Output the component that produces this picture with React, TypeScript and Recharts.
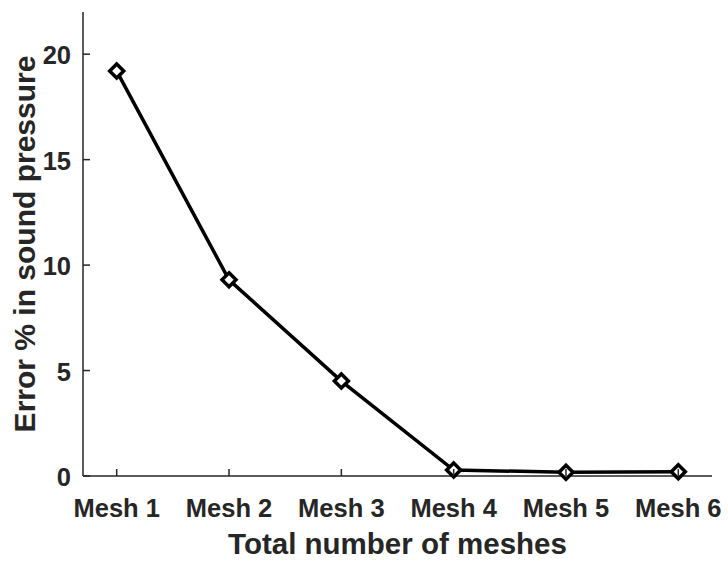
import { LineChart, Line, XAxis, YAxis } from 'recharts';

const meshLabels = ['Mesh 1', 'Mesh 2', 'Mesh 3', 'Mesh 4', 'Mesh 5', 'Mesh 6'];
const meshIndex = [1, 2, 3, 4, 5, 6];
const errorPercent = [19.2, 9.3, 4.5, 0.28, 0.18, 0.2];
const yTicks = [0, 5, 10, 15, 20];

const data = meshIndex.map((m, i) => ({ mesh: m, error: errorPercent[i] }));

const FONT = '"Liberation Sans", Arial, sans-serif';
const AXIS = '#262626';
const TICK_LEN = 7;

function BottomTick({ x, y, payload }: any) {
  return (
    <g>
      <line x1={x} y1={y} x2={x} y2={y - TICK_LEN} stroke={AXIS} strokeWidth={1.5} />
      <text x={x} y={y + 41} textAnchor="middle" fontFamily={FONT} fontWeight="bold" fontSize={25.5} fill={AXIS}>
        {meshLabels[payload.value - 1]}
      </text>
    </g>
  );
}

function TopTick({ x, y }: any) {
  return <line x1={x} y1={y} x2={x} y2={y + TICK_LEN} stroke={AXIS} strokeWidth={1.5} />;
}

function LeftTick({ x, y, payload }: any) {
  return (
    <g>
      <line x1={x} y1={y} x2={x + TICK_LEN} y2={y} stroke={AXIS} strokeWidth={1.5} />
      <text x={x - 12} y={y + 10} textAnchor="end" fontFamily={FONT} fontWeight="bold" fontSize={25.5} fill={AXIS}>
        {payload.value}
      </text>
    </g>
  );
}

function RightTick({ x, y }: any) {
  return <line x1={x} y1={y} x2={x - TICK_LEN} y2={y} stroke={AXIS} strokeWidth={1.5} />;
}

// hollow diamond marker with a heavy outline
function Diamond({ cx, cy }: any) {
  const r = 7;
  return (
    <polygon
      points={`${cx},${cy - r} ${cx + r},${cy} ${cx},${cy + r} ${cx - r},${cy}`}
      fill="#fff"
      stroke="#000"
      strokeWidth={3.5}
    />
  );
}

export default function App() {
  return (
    <div style={{ position: 'absolute', left: 0, top: 0, width: 728, height: 563, background: '#fff' }}>
      <LineChart width={728} height={563} data={data} margin={{ top: 12, right: 16, left: 0, bottom: 0 }}>
        <XAxis
          dataKey="mesh"
          type="number"
          domain={[0.7, 6.3]}
          ticks={meshIndex}
          height={87}
          tickSize={0}
          tickMargin={0}
          tickLine={false}
          tick={<BottomTick />}
          axisLine={{ stroke: AXIS, strokeWidth: 1.5 }}
          label={{
            value: 'Total number of meshes',
            position: 'insideBottom',
            offset: 9,
            style: { fontFamily: FONT, fontWeight: 'bold', fontSize: 29.5, fill: AXIS },
          }}
        />
        <XAxis
          xAxisId="top"
          orientation="top"
          dataKey="mesh"
          type="number"
          domain={[0.7, 6.3]}
          ticks={meshIndex}
          height={0}
          tickSize={0}
          tickLine={false}
          tick={<TopTick />}
          axisLine={{ stroke: AXIS, strokeWidth: 1.5 }}
        />
        <YAxis
          type="number"
          domain={[0, 22]}
          ticks={yTicks}
          width={83}
          tickSize={0}
          tickMargin={0}
          tickLine={false}
          tick={<LeftTick />}
          axisLine={{ stroke: AXIS, strokeWidth: 1.5 }}
          label={{
            value: 'Error % in sound pressure',
            angle: -90,
            position: 'center',
            dx: -17,
            style: { fontFamily: FONT, fontWeight: 'bold', fontSize: 30, fill: AXIS, textAnchor: 'middle' },
          }}
        />
        <YAxis
          yAxisId="right"
          orientation="right"
          type="number"
          domain={[0, 22]}
          ticks={yTicks}
          width={0}
          tickSize={0}
          tickLine={false}
          tick={<RightTick />}
          axisLine={{ stroke: AXIS, strokeWidth: 1.5 }}
        />
        <Line
          dataKey="error"
          stroke="#000"
          strokeWidth={3.5}
          dot={<Diamond />}
          activeDot={false}
          isAnimationActive={false}
        />
      </LineChart>
    </div>
  );
}
